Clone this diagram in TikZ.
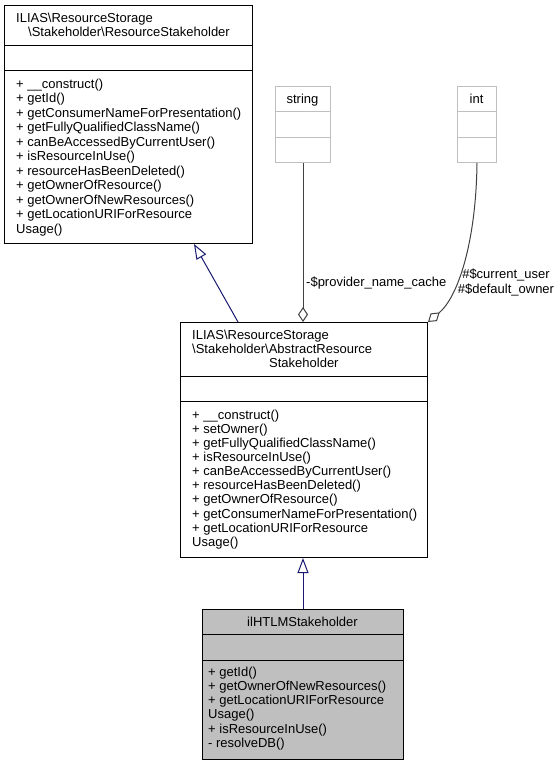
\documentclass[tikz,border=0pt]{standalone}
\usepackage{fontspec}
\setmainfont{Liberation Sans}
\usetikzlibrary{arrows.meta}
\definecolor{inhcol}{HTML}{191970}
\definecolor{usecol}{HTML}{404040}
\definecolor{lightgrey}{HTML}{BFBFBF}
\tikzset{
  cls/.style={draw=black, line width=1pt, fill=white, rectangle, inner sep=0pt, anchor=north west},
  clsmain/.style={cls, fill=lightgrey},
  clsext/.style={draw=lightgrey, line width=1pt, fill=white, rectangle, inner sep=0pt, anchor=north west},
  txt/.style={inner sep=0pt, align=left, font=\fontsize{13}{14.3}\selectfont},
  inh/.style={draw=inhcol, line width=1pt, -{Triangle[open, length=15pt, width=11pt, line width=1pt]}},
  use/.style={draw=usecol, line width=1pt, {Diamond[open, length=15pt, width=10pt, line width=1pt]}-},
}
\begin{document}
\begin{tikzpicture}[x=1pt,y=-1pt]
\useasboundingbox (0,0) rectangle (559,765);

% ---- top class
\node[cls, minimum width=248pt, minimum height=238pt] (rs) at (4,5) {};
\draw[line width=1pt] (rs.west |- 0,45.7) -- (rs.east |- 0,45.7);
\draw[line width=1pt] (rs.west |- 0,70.7) -- (rs.east |- 0,70.7);
\node[txt, anchor=base west] (rsh1) at (16,22.5) {ILIAS\textbackslash ResourceStorage};
\node[txt, anchor=base west] (rsh2) at (28,36.7) {\textbackslash Stakeholder\textbackslash ResourceStakeholder};
% base anchor = baseline of last line (first line baseline 88, 11 lines, skip 14.5)
\node[txt, anchor=base west, font=\fontsize{13}{14.5}\selectfont] (rsm) at (16,233) {+ \_\_construct()\\
+ getId()\\
+ getConsumerNameForPresentation()\\
+ getFullyQualifiedClassName()\\
+ canBeAccessedByCurrentUser()\\
+ isResourceInUse()\\
+ resourceHasBeenDeleted()\\
+ getOwnerOfResource()\\
+ getOwnerOfNewResources()\\
+ getLocationURIForResource\\
Usage()};

% ---- string / int
\node[clsext, minimum width=55pt, minimum height=76pt] (str) at (275,86) {};
\draw[lightgrey, line width=1pt] (str.west |- 0,112) -- (str.east |- 0,112);
\draw[lightgrey, line width=1pt] (str.west |- 0,137) -- (str.east |- 0,137);
\node[txt, anchor=base] (strt) at (302.5,103) {string};

\node[clsext, minimum width=39pt, minimum height=76pt] (int) at (457,86) {};
\draw[lightgrey, line width=1pt] (int.west |- 0,112) -- (int.east |- 0,112);
\draw[lightgrey, line width=1pt] (int.west |- 0,137) -- (int.east |- 0,137);
\node[txt, anchor=base] (intt) at (476.5,103) {int};

% ---- middle class
\node[cls, minimum width=247pt, minimum height=235pt] (ars) at (180,322) {};
\draw[line width=1pt] (ars.west |- 0,376) -- (ars.east |- 0,376);
\draw[line width=1pt] (ars.west |- 0,401) -- (ars.east |- 0,401);
\node[txt, anchor=base west] (arsh1) at (192,339) {ILIAS\textbackslash ResourceStorage};
\node[txt, anchor=base west] (arsh2) at (192,353.3) {\textbackslash Stakeholder\textbackslash AbstractResource};
\node[txt, anchor=base west] (arsh3) at (269,367.6) {Stakeholder};
\node[txt, anchor=base west, font=\fontsize{13}{14.15}\selectfont] (arsm) at (192,546.4) {+ \_\_construct()\\
+ setOwner()\\
+ getFullyQualifiedClassName()\\
+ isResourceInUse()\\
+ canBeAccessedByCurrentUser()\\
+ resourceHasBeenDeleted()\\
+ getOwnerOfResource()\\
+ getConsumerNameForPresentation()\\
+ getLocationURIForResource\\
Usage()};

% ---- bottom class
\node[clsmain, minimum width=201pt, minimum height=150pt] (il) at (202,609) {};
\draw[line width=1pt] (il.west |- 0,634) -- (il.east |- 0,634);
\draw[line width=1pt] (il.west |- 0,660) -- (il.east |- 0,660);
\node[txt, anchor=base] (ilt) at (302.5,626.7) {ilHTLMStakeholder};
\node[txt, anchor=base west] (ilm) at (208,747.5) {+ getId()\\
+ getOwnerOfNewResources()\\
+ getLocationURIForResource\\
Usage()\\
+ isResourceInUse()\\
- resolveDB()};

% ---- connectors
\draw[inh] (ars.north -| 238,0) -- (rs.south -| 194,0);
\draw[inh] (il.north -| 303,0) -- (ars.south -| 303,0);
\draw[use] (ars.north -| str.south) -- (str.south);
\node[txt, anchor=base west] (lbl1) at (306,286) {-\$provider\_name\_cache};
\draw[use] (ars.north east) .. controls (457.8,297.4) and (476,243) .. (int.south);
\node[txt, anchor=base, align=center, font=\fontsize{13}{15}\selectfont] (lbl2) at (506,293) {\#\$current\_user\\ \#\$default\_owner};
\end{tikzpicture}
\end{document}
